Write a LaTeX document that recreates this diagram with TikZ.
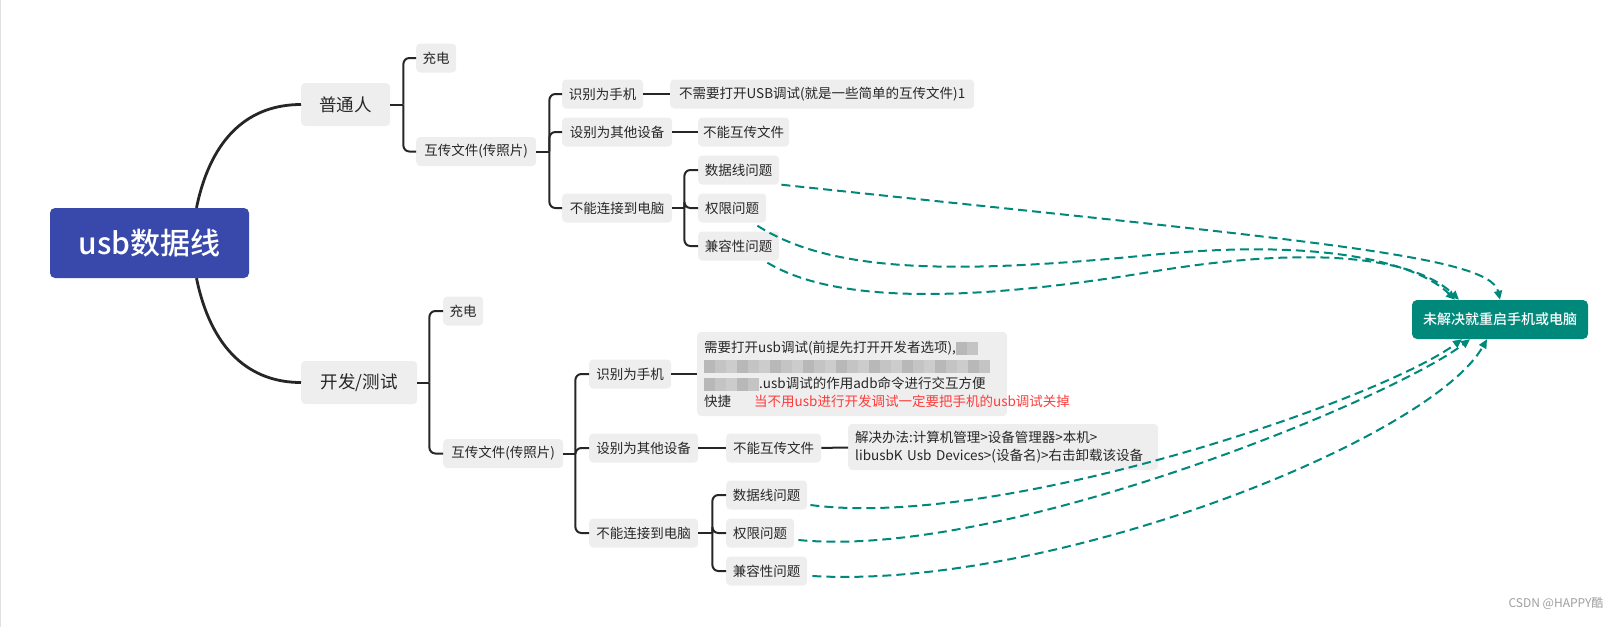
\documentclass[tikz,border=0pt]{standalone}
\usepackage{fontspec}
\setmainfont{Noto Sans CJK SC}
\newfontfamily\medfont{Noto Sans CJK SC Medium}
\usetikzlibrary{positioning, arrows.meta, calc}

\definecolor{boxgray}{HTML}{EEEEEE}
\definecolor{rootblue}{HTML}{3949AB}
\definecolor{goalteal}{HTML}{00897B}
\definecolor{inkdark}{HTML}{262626}
\definecolor{warnred}{HTML}{FF3B3B}
\definecolor{markgray}{HTML}{9E9E9E}
\definecolor{blurA}{HTML}{CCCCCC}
\definecolor{blurB}{HTML}{B8B8B8}
\definecolor{blurC}{HTML}{C4C4C4}

% pixelated (blurred) bits of the note
\newcommand\pixtile[1]{\textcolor{#1}{\rule[-3pt]{11pt}{13pt}}}
\newcommand\pixrow[1]{\foreach \k in {1,...,#1}{\pgfmathtruncatemacro\s{mod(\k*7,3)}\ifcase\s\pixtile{blurA}\or\pixtile{blurB}\else\pixtile{blurC}\fi}}

\begin{document}
\begin{tikzpicture}[x=1pt, y=-1pt,
    topic/.style={fill=boxgray, rounded corners=4pt, text=inkdark, anchor=west,
      inner xsep=5pt, inner ysep=0pt, minimum height=29pt,
      font=\fontsize{13.5}{18}\selectfont},
    person/.style={topic, minimum height=43pt, font=\fontsize{17.5}{21}\selectfont},
    branch/.style={draw=inkdark, line width=2pt},
    stem/.style={draw=inkdark, line width=2.8pt},
    retry/.style={draw=goalteal, line width=2pt, dash pattern=on 9pt off 5pt,
      -{Triangle[length=9pt,width=8pt]}}]
  \useasboundingbox (0,0) rectangle (1622,627);
  \draw[black!12, line width=1pt] (0.5,0) -- (0.5,627);

  % root
  \node[fill=rootblue, rounded corners=5pt, text=white, minimum width=199pt,
    minimum height=70pt, font=\fontsize{30}{34}\medfont] (root) at (149.5,243) {usb数据线};

  % ordinary user
  \node[person, minimum width=89pt] (p1) at (301,104.5) {普通人};
  \node[topic, minimum width=40pt] (p1a) at (416,58) {充电};
  \node[topic, minimum width=120pt] (p1b) at (416,151.5) {互传文件(传照片)};
  \node[topic, minimum width=81pt] (p1b1) at (562,94) {识别为手机};
  \node[topic, minimum width=304pt] (p1b1a) at (670,94) {不需要打开USB调试(就是一些简单的互传文件)1};
  \node[topic, minimum width=110pt] (p1b2) at (562,132) {设别为其他设备};
  \node[topic, minimum width=78pt] (p1b2a) at (698,132) {不能互传文件};
  \node[topic, minimum width=110pt] (p1b3) at (562,208) {不能连接到电脑};
  \node[topic, minimum width=81pt] (p1b3a) at (698,170) {数据线问题};
  \node[topic, minimum width=68pt] (p1b3b) at (698,208) {权限问题};
  \node[topic, minimum width=81pt] (p1b3c) at (698,246) {兼容性问题};

  % developer / tester
  \node[person, minimum width=116pt] (p2) at (301,382.5) {开发/测试};
  \node[topic, minimum width=40pt] (p2a) at (443,311) {充电};
  \node[topic, minimum width=120pt] (p2b) at (443,453.5) {互传文件(传照片)};
  \node[topic, minimum width=82pt] (p2b1) at (589,374) {识别为手机};
  \node[topic, text width=296pt, align=left, inner xsep=7pt, minimum height=84pt] (p2b1a) at (697,374)
    {需要打开usb调试(前提先打开开发者选项),\pixrow{2}\\
     \pixrow{26}\\
     \pixrow{5}.usb调试的作用adb命令进行交互方便\\
     快捷\hspace{23pt}\rlap{\color{warnred}当不用usb进行开发调试一定要把手机的usb调试关掉}};
  \node[topic, minimum width=109pt] (p2b2) at (589,448) {设别为其他设备};
  \node[topic, minimum width=95pt] (p2b2a) at (726,448) {不能互传文件};
  \node[topic, text width=296pt, align=left, inner xsep=7pt, minimum height=46pt] (p2b2b) at (848,447)
    {解决办法:计算机管理>设备管理器>本机>\\libusbK Usb Devices>(设备名)>右击卸载该设备};
  \node[topic, minimum width=109pt] (p2b3) at (589,533) {不能连接到电脑};
  \node[topic, minimum width=81pt] (p2b3a) at (726,495) {数据线问题};
  \node[topic, minimum width=68pt] (p2b3b) at (726,533) {权限问题};
  \node[topic, minimum width=81pt] (p2b3c) at (726,571) {兼容性问题};

  % fallback
  \node[fill=goalteal, rounded corners=5pt, text=white, minimum width=176pt, minimum height=39pt,
    font=\fontsize{14}{16}\medfont] (fix) at (1500,319.5) {未解决就重启手机或电脑};

  % stems from the root
  \draw[stem] ($(root.north)+(47,0)$) .. controls +(15,-73) and +(-50,0) .. (p1.west);
  \draw[stem] ($(root.south)+(47,0)$) .. controls +(15,73) and +(-50,0) .. (p2.west);

  % forks
  \draw[branch] (p1.east) -- ++(13,0) coordinate (f1);
  \foreach \c in {p1a,p1b} \draw[branch, rounded corners=6pt] (f1) |- (\c.west);
  \draw[branch] (p1b.east) -- ++(13,0) coordinate (f2);
  \foreach \c in {p1b1,p1b2,p1b3} \draw[branch, rounded corners=6pt] (f2) |- (\c.west);
  \draw[branch] (p1b3.east) -- ++(12,0) coordinate (f3);
  \foreach \c in {p1b3a,p1b3b,p1b3c} \draw[branch, rounded corners=6pt] (f3) |- (\c.west);
  \draw[branch] (p1b1) -- (p1b1a);
  \draw[branch] (p1b2) -- (p1b2a);

  \draw[branch] (p2.east) -- ++(12,0) coordinate (g1);
  \foreach \c in {p2a,p2b} \draw[branch, rounded corners=6pt] (g1) |- (\c.west);
  \draw[branch] (p2b.east) -- ++(12,0) coordinate (g2);
  \foreach \c in {p2b1,p2b2,p2b3} \draw[branch, rounded corners=6pt] (g2) |- (\c.west);
  \draw[branch] (p2b3.east) -- ++(14,0) coordinate (g3);
  \foreach \c in {p2b3a,p2b3b,p2b3c} \draw[branch, rounded corners=6pt] (g3) |- (\c.west);
  \draw[branch] (p2b1) -- (p2b1a);
  \draw[branch] (p2b2) -- (p2b2a);
  \draw[branch] (p2b2a) -- (p2b2b);

  % dashed links to the fallback
  \draw[retry] ($(p1b3a.south east)+(2,0)$) .. controls (1300,240) and (1490,255) .. (fix.north);
  \draw[retry] ($(p1b3b.south east)+(-9,3)$) .. controls (830,272) and (950,275) .. (1150,255)
    .. controls (1330,237) and (1420,265) .. ($(fix.north)+(-45,0)$);
  \draw[retry] ($(p1b3c.south east)+(-12,2)$) .. controls (830,300) and (950,305) .. (1150,272)
    .. controls (1330,242) and (1420,262) .. ($(fix.north)+(-41,0)$);
  \draw[retry] ($(p2b3a.east)+(3,10)$) .. controls (1000,530) and (1380,400) .. ($(fix.south)+(-38,0)$);
  \draw[retry] ($(p2b3b.east)+(4,7)$) .. controls (1000,560) and (1390,400) .. ($(fix.south)+(-30,0)$);
  \draw[retry] ($(p2b3c.east)+(5,5)$) .. controls (1050,590) and (1430,440) .. ($(fix.south)+(-13,0)$);

  \node[anchor=east, text=markgray, font=\fontsize{12}{14}\selectfont] (credit) at (1607,603) {CSDN @HAPPY酷};
\end{tikzpicture}
\end{document}
